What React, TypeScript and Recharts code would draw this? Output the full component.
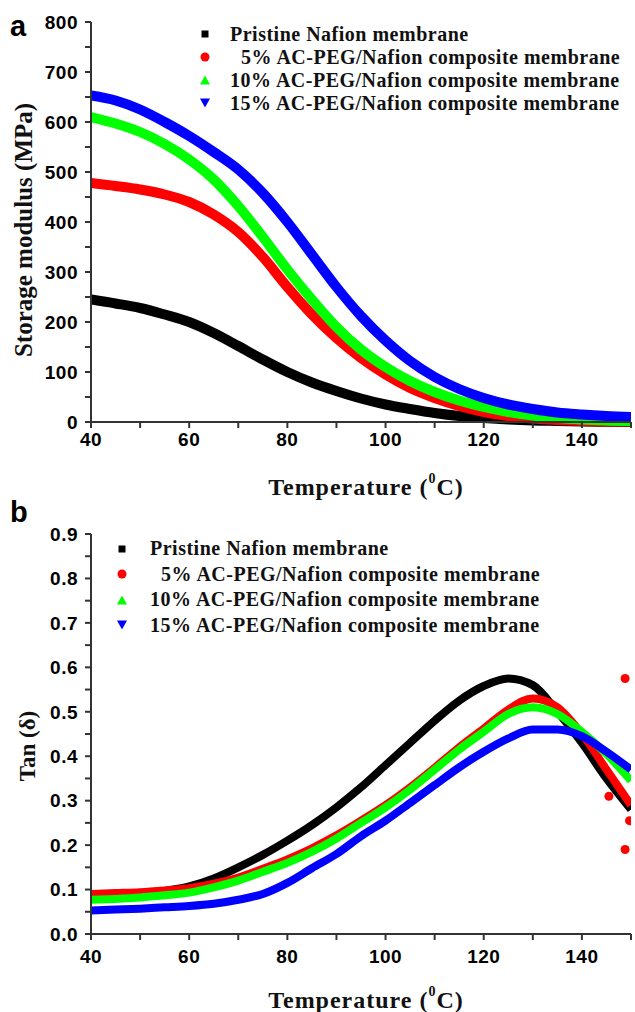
import { ComposedChart, Line, Scatter, XAxis, YAxis, Label } from "recharts";

// temperature grid (°C) shared by all series
const temps = [40, 45, 50, 55, 60, 65, 70, 75, 80, 85, 90, 95, 100, 105, 110, 115, 120, 125, 130, 135, 140, 145, 150];

// (a) storage modulus, MPa
const modPristine = [245, 237, 228, 215, 200, 178, 152, 125, 100, 79, 62, 47, 35, 26, 18, 12, 8, 5, 3, 2, 1, 0.5, 0];
const mod5 = [478, 472, 465, 455, 440, 415, 380, 330, 270, 215, 168, 128, 95, 68, 48, 32, 20, 12, 7, 4, 2, 1, 0.5];
const mod10 = [610, 597, 580, 556, 525, 485, 432, 370, 305, 245, 190, 145, 110, 82, 60, 43, 30, 20, 13, 8, 5, 3, 2];
const mod15 = [653, 643, 625, 600, 572, 540, 505, 458, 400, 335, 270, 212, 163, 122, 90, 66, 48, 35, 26, 19, 15, 12, 10];

// (b) tan delta
const tanPristine = [0.087, 0.089, 0.092, 0.097, 0.107, 0.125, 0.15, 0.178, 0.21, 0.245, 0.285, 0.33, 0.38, 0.43, 0.48, 0.525, 0.558, 0.575, 0.56, 0.5, 0.43, 0.35, 0.28];
const tan5 = [0.09, 0.092, 0.094, 0.098, 0.103, 0.113, 0.127, 0.147, 0.168, 0.193, 0.222, 0.255, 0.29, 0.33, 0.374, 0.42, 0.462, 0.505, 0.53, 0.51, 0.45, 0.37, 0.29];
const tan10 = [0.077, 0.079, 0.082, 0.087, 0.093, 0.105, 0.12, 0.14, 0.16, 0.185, 0.215, 0.25, 0.285, 0.325, 0.37, 0.415, 0.455, 0.495, 0.51, 0.495, 0.455, 0.405, 0.345];
const tan15 = [0.053, 0.055, 0.057, 0.06, 0.063, 0.068, 0.077, 0.09, 0.115, 0.148, 0.18, 0.22, 0.255, 0.295, 0.335, 0.375, 0.41, 0.44, 0.46, 0.46, 0.445, 0.41, 0.37];
// stray red points near the end of the 5% run
const tan5StrayT = [148.8, 149.7, 148.8, 145.5];
const tan5StrayV = [0.575, 0.255, 0.19, 0.31];

const seriesNames = [
  "Pristine Nafion membrane",
  "\u00a0\u00a05% AC-PEG/Nafion composite membrane",
  "10% AC-PEG/Nafion composite membrane",
  "15% AC-PEG/Nafion composite membrane",
];
const colors = ["#000000", "#ff0000", "#00ff00", "#0000ff"];
const markers = ["square", "circle", "up", "down"];

const xTicks = [40, 50, 60, 70, 80, 90, 100, 110, 120, 130, 140, 150];
const modTicks = [0, 50, 100, 150, 200, 250, 300, 350, 400, 450, 500, 550, 600, 650, 700, 750, 800];
const tanTicks = [0, 0.05, 0.1, 0.15, 0.2, 0.25, 0.3, 0.35, 0.4, 0.45, 0.5, 0.55, 0.6, 0.65, 0.7, 0.75, 0.8, 0.85, 0.9];

const toPts = (vals: number[], ts: number[] = temps) => ts.map((t, i) => ({ t, v: vals[i] }));

const SANS = "'Liberation Sans', Arial, sans-serif";
const SERIF = "'Liberation Serif', 'Times New Roman', serif";
const AX = "#333";

const tickStyle = { fontFamily: SANS, fontWeight: 700, fontSize: 19, fill: "#000", letterSpacing: 0.5 };

const xFmt = (v: number) => (v % 20 === 0 && v < 150 ? String(v) : "");

function Marker({ kind, color }: { kind: string; color: string }) {
  return (
    <svg width={12} height={12} viewBox="0 0 12 12" style={{ display: "block" }}>
      {kind === "square" && <rect x={2.5} y={2.5} width={7} height={7} fill={color} />}
      {kind === "circle" && <circle cx={6} cy={6} r={4.5} fill={color} />}
      {kind === "up" && <polygon points="6,1.5 11,10.5 1,10.5" fill={color} />}
      {kind === "down" && <polygon points="1,1.5 11,1.5 6,10.5" fill={color} />}
    </svg>
  );
}

function LegendBox({ left, top, rowH, gap }: { left: number; top: number; rowH: number; gap: number }) {
  return (
    <div style={{ position: "absolute", left, top, fontFamily: SERIF, fontWeight: 700, fontSize: 20, letterSpacing: 0.5, color: "#111" }}>
      {seriesNames.map((n, i) => (
        <div key={n} style={{ display: "flex", alignItems: "center", height: rowH, whiteSpace: "pre" }}>
          <div style={{ width: 20, display: "flex", justifyContent: "center" }}>
            <Marker kind={markers[i]} color={colors[i]} />
          </div>
          <span style={{ marginLeft: gap }}>{n}</span>
        </div>
      ))}
    </div>
  );
}

function tempTitle(dy: number) {
  return (props: any) => {
    const vb = props.viewBox || { x: 91, y: 0, width: 540 };
    return (
      <text x={vb.x + vb.width / 2 + 5} y={vb.y + dy} textAnchor="middle" dominantBaseline="central" fontFamily={SERIF} fontWeight={700} fontSize={24} letterSpacing={1} fill="#111">
        Temperature (<tspan dy={-9} fontSize={14}>0</tspan>
        <tspan dy={9}>C)</tspan>
      </text>
    );
  };
}

function yTitle(text: string, x: number, y: number, size: number) {
  return () => (
    <text x={x} y={y} transform={`rotate(-90, ${x}, ${y})`} textAnchor="middle" dominantBaseline="central" fontFamily={SERIF} fontWeight={700} fontSize={size} fill="#111">
      {text}
    </text>
  );
}

const panelLabel = (t: string, top: number) => (
  <div style={{ position: "absolute", left: 10, top, fontFamily: SANS, fontWeight: 700, fontSize: 29, lineHeight: "29px" }}>{t}</div>
);

export default function App() {
  const modSeries = [modPristine, mod5, mod10, mod15];
  const tanSeries = [tanPristine, tan5, tan10, tan15];
  return (
    <div style={{ position: "absolute", left: 0, top: 0, width: 635, height: 1012, background: "#fff" }}>
      <div style={{ position: "absolute", left: 0, top: 0 }}>
        <ComposedChart width={635} height={506} margin={{ top: 22, right: 4, bottom: 0, left: 0 }}>
          <XAxis
            type="number"
            dataKey="t"
            domain={[40, 150]}
            ticks={xTicks}
            tickFormatter={xFmt}
            tick={tickStyle}
            tickSize={6}
            tickMargin={5}
            stroke={AX}
            strokeWidth={2}
            height={84}
            allowDataOverflow
          >
            <Label content={tempTitle(65)} />
          </XAxis>
          <YAxis
            type="number"
            domain={[0, 800]}
            ticks={modTicks}
            tickFormatter={(v: number) => (v % 100 === 0 ? String(v) : "")}
            tick={tickStyle}
            tickSize={6}
            tickMargin={7}
            stroke={AX}
            strokeWidth={2}
            width={91}
          >
            <Label content={yTitle("Storage modulus (MPa)", 23, 230, 25)} />
          </YAxis>
          {modSeries.map((vals, i) => (
            <Line
              key={i}
              data={toPts(vals)}
              dataKey="v"
              type="monotone"
              stroke={colors[i]}
              strokeWidth={10}
              dot={false}
              isAnimationActive={false}
              name={seriesNames[i]}
            />
          ))}
        </ComposedChart>
        <LegendBox left={195} top={22.5} rowH={23} gap={15} />
      </div>
      <div style={{ position: "absolute", left: 0, top: 506 }}>
        <ComposedChart width={635} height={506} margin={{ top: 28, right: 4, bottom: 0, left: 0 }}>
          <XAxis
            type="number"
            dataKey="t"
            domain={[40, 150]}
            ticks={xTicks}
            tickFormatter={xFmt}
            tick={tickStyle}
            tickSize={6}
            tickMargin={10}
            stroke={AX}
            strokeWidth={2}
            height={78}
            allowDataOverflow
          >
            <Label content={tempTitle(66)} />
          </XAxis>
          <YAxis
            type="number"
            domain={[0, 0.9]}
            ticks={tanTicks}
            tickFormatter={(v: number) => (Math.round(v * 100) % 10 === 0 ? v.toFixed(1) : "")}
            tick={tickStyle}
            tickSize={6}
            tickMargin={7}
            stroke={AX}
            strokeWidth={2}
            width={91}
          >
            <Label content={yTitle("Tan (\u03b4)", 27, 240, 23)} />
          </YAxis>
          {tanSeries.map((vals, i) => (
            <Line
              key={i}
              data={toPts(vals)}
              dataKey="v"
              type="monotone"
              stroke={colors[i]}
              strokeWidth={8}
              dot={false}
              isAnimationActive={false}
              name={seriesNames[i]}
            />
          ))}
          <Scatter data={toPts(tan5StrayV, tan5StrayT)} dataKey="v" fill="#ff0000" isAnimationActive={false} />
        </ComposedChart>
        <LegendBox left={112} top={30} rowH={25.5} gap={18} />
      </div>
      {panelLabel("a", 12)}
      {panelLabel("b", 498)}
    </div>
  );
}
